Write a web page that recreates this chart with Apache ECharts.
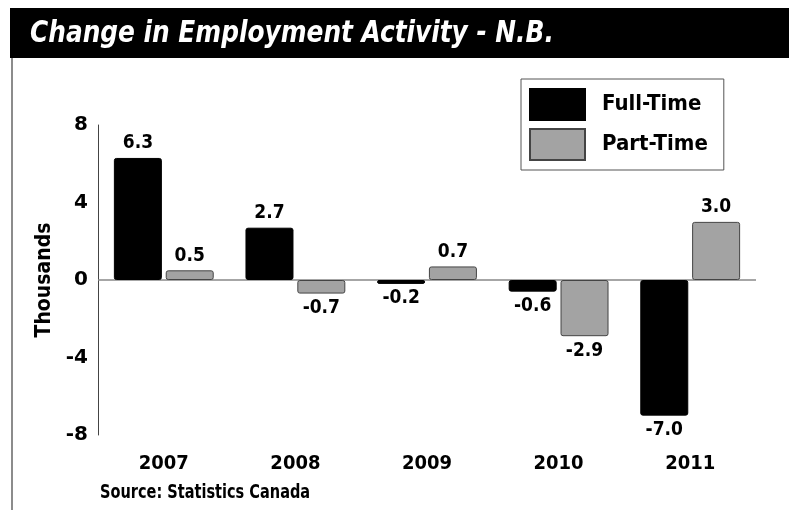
<!DOCTYPE html>
<html>
<head>
<meta charset="utf-8">
<script src="https://cdn.jsdelivr.net/npm/echarts@6/dist/echarts.min.js"></script>
<style>
html,body{margin:0;padding:0;background:#fff;}
#chart{width:789px;height:510px;}
</style>
</head>
<body>
<div id="chart"></div>
<script>
var categories = ['2007', '2008', '2009', '2010', '2011'];
var fullTime = [6.3, 2.7, -0.2, -0.6, -7.0];
var partTime = [0.5, -0.7, 0.7, -2.9, 3.0];
var yTicks = [-8, -4, 0, 4, 8];
var titleText = 'Change in Employment Activity - N.B.';
var sourceText = 'Source: Statistics Canada';
var yName = 'Thousands';

var NARROW = "'DejaVu Sans Condensed', 'Liberation Sans Narrow', sans-serif";

function toData(arr) {
  return arr.map(function (v) {
    return { value: v, label: { position: v >= 0 ? 'top' : 'bottom' } };
  });
}

var chart = echarts.init(document.getElementById('chart'), null, { renderer: 'canvas' });
var labelStyle = {
  show: true,
  distance: 5,
  fontFamily: NARROW,
  fontWeight: 'bold',
  fontSize: 19,
  color: '#000',
  formatter: function (p) { return p.value.toFixed(1); }
};

chart.setOption({
  animation: false,
  backgroundColor: '#fff',
  graphic: [
    { type: 'rect', shape: { x: 10, y: 8, width: 779, height: 50 }, style: { fill: '#000' }, z: 0 },
    { type: 'line', shape: { x1: 12, y1: 58, x2: 12, y2: 510 }, style: { stroke: '#666', lineWidth: 1.5 } },
    { type: 'text', x: 30, y: 34, scaleX: 0.89, style: { text: titleText, fill: '#fff', font: "italic bold 31px 'DejaVu Sans Condensed', sans-serif", textVerticalAlign: 'middle' } },
    { type: 'text', x: 100, y: 493, scaleX: 0.85, style: { text: sourceText, fill: '#000', font: "bold 19px 'DejaVu Sans Condensed', sans-serif", textVerticalAlign: 'middle' } }
  ],
  legend: {
    left: 521,
    top: 79,
    orient: 'vertical',
    icon: 'rect',
    itemWidth: 55,
    itemHeight: 31,
    itemGap: 7,
    padding: [9, 16, 9, 8],
    borderColor: '#555',
    borderWidth: 1,
    textStyle: { fontFamily: NARROW, fontWeight: 'bold', fontSize: 22, color: '#000', padding: [0, 0, 0, 12] },
    data: ['Full-Time', 'Part-Time']
  },
  grid: { left: 98, right: 33, top: 125, bottom: 75 },
  xAxis: {
    type: 'category',
    data: categories,
    axisLine: { show: false },
    axisTick: { show: false },
    axisLabel: { margin: 19, fontFamily: NARROW, fontWeight: 'bold', fontSize: 20, color: '#000' }
  },
  yAxis: {
    type: 'value',
    min: yTicks[0],
    max: yTicks[yTicks.length - 1],
    interval: 4,
    name: yName,
    nameLocation: 'middle',
    nameGap: 43,
    nameRotate: 90,
    nameTextStyle: { fontFamily: NARROW, fontWeight: 'bold', fontSize: 21, color: '#000' },
    axisLine: { show: true, lineStyle: { color: '#444', width: 1 } },
    axisTick: { show: false },
    splitLine: { show: false },
    axisLabel: { margin: 10, fontFamily: "'DejaVu Sans', sans-serif", fontWeight: 'bold', fontSize: 20, color: '#000' }
  },
  series: [
    {
      name: 'Full-Time',
      type: 'bar',
      data: toData(fullTime),
      barWidth: 48,
      barGap: '8%',
      itemStyle: { color: '#000', borderColor: '#000', borderWidth: 1, borderRadius: 2 },
      label: labelStyle,
      markLine: {
        silent: true,
        symbol: 'none',
        label: { show: false },
        lineStyle: { color: '#888', type: 'solid', width: 1.5 },
        data: [{ yAxis: 0 }],
        z: 1
      },
      z: 3
    },
    {
      name: 'Part-Time',
      type: 'bar',
      data: toData(partTime),
      barWidth: 48,
      itemStyle: { color: '#a3a3a3', borderColor: '#444', borderWidth: 1, borderRadius: 2 },
      label: labelStyle,
      z: 3
    }
  ]
});
</script>
</body>
</html>
